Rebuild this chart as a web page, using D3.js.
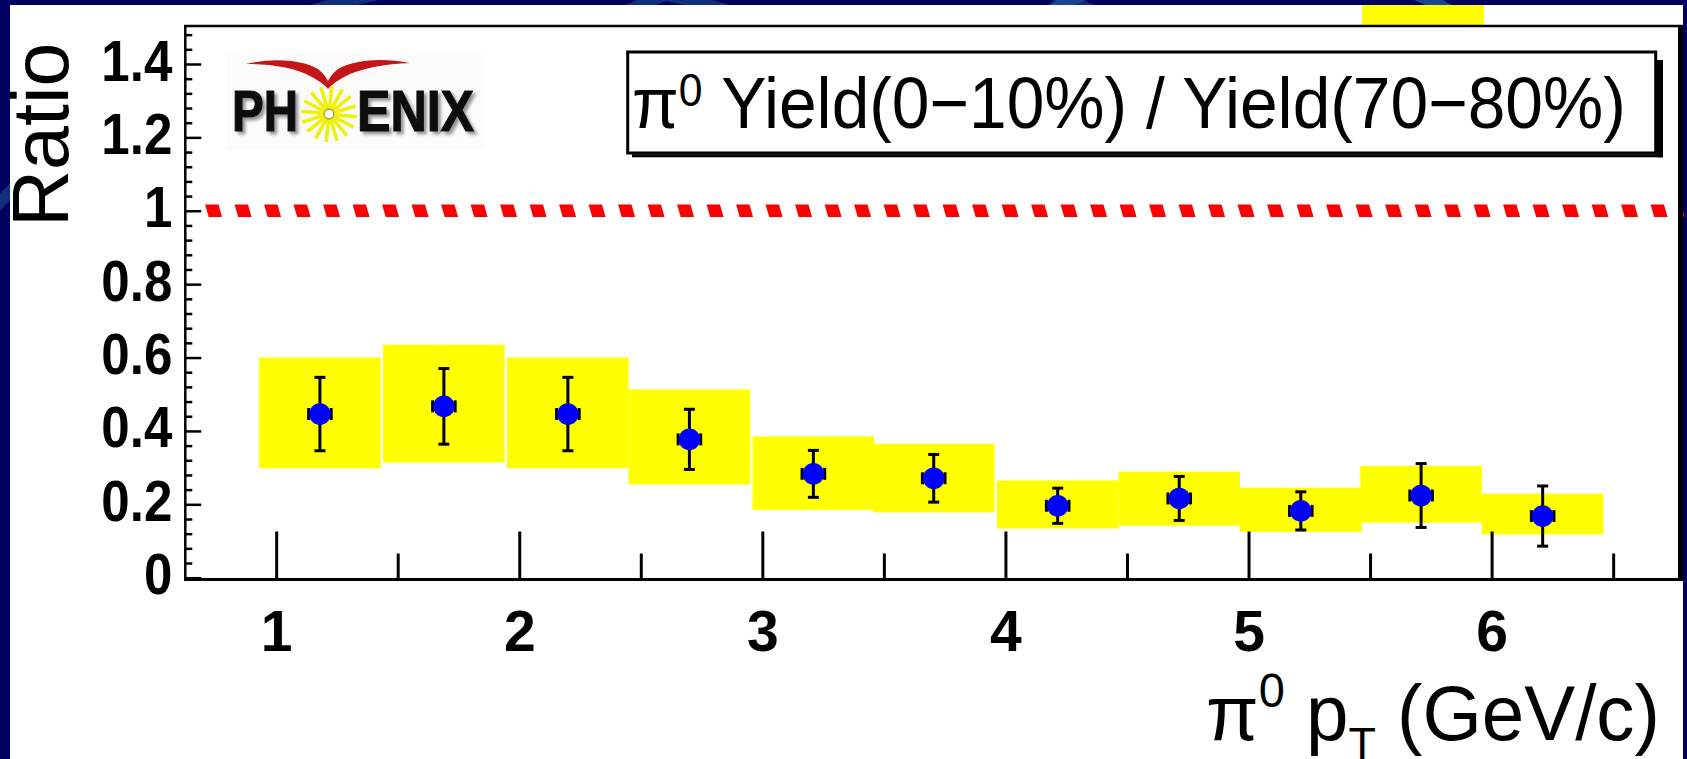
<!DOCTYPE html>
<html>
<head>
<meta charset="utf-8">
<title>pi0 yield ratio 0-10% / 70-80%</title>
<script src="https://cdn.jsdelivr.net/npm/d3@7"></script>
<style>
  html, body { margin: 0; padding: 0; background: #000060; overflow: hidden; }
  svg { display: block; }
</style>
</head>
<body>
<svg id="chart" width="1687" height="759"></svg>
<script>
// ---- data: central (0-10%) over peripheral (70-80%) pi0 yield ratio ----
const ptCenters   = [1.18, 1.69, 2.20, 2.70, 3.21, 3.705, 4.215, 4.715, 5.215, 5.71, 6.21];
const ratioValues = [0.446, 0.467, 0.446, 0.377, 0.283, 0.271, 0.196, 0.216, 0.182, 0.224, 0.168];
const statErrors  = [0.100, 0.103, 0.100, 0.082, 0.064, 0.065, 0.048, 0.060, 0.052, 0.087, 0.082];
const systLow     = [0.298, 0.314, 0.298, 0.254, 0.185, 0.178, 0.134, 0.142, 0.125, 0.150, 0.118];
const systHigh    = [0.600, 0.635, 0.600, 0.513, 0.385, 0.365, 0.265, 0.289, 0.245, 0.305, 0.229];
const systHalfWidth = 0.25;

const xMajorTicks = [1, 2, 3, 4, 5, 6];
const xMinorTicks = [1.5, 2.5, 3.5, 4.5, 5.5, 6.5];
const yMajorTicks = [0, 0.2, 0.4, 0.6, 0.8, 1, 1.2, 1.4];
const referenceLevel = 1;
const referenceStart = 0.715;

const titleText = "Yield(0\u221210%) / Yield(70\u221280%)";
const yTitle = "Ratio";

// ---- layout ----
const W = 1687, H = 759;
const frame = { left: 185.3, top: 26, right: 1680.5, bottom: 579.5 };
const FONT = "'Liberation Sans', Arial, Helvetica, sans-serif";

const x = d3.scaleLinear().domain([0.625, 6.775]).range([185, 1680]);
const y = d3.scaleLinear().domain([0, 1.5]).range([577.7, 27.3]);

const svg = d3.select("#chart");
const defs = svg.append("defs");
defs.append("filter").attr("id", "soft")
  .append("feGaussianBlur").attr("stdDeviation", 0.6);
const shadow = defs.append("filter").attr("id", "letterShadow")
  .attr("x", "-10%").attr("y", "-20%").attr("width", "130%").attr("height", "150%");
shadow.append("feGaussianBlur").attr("in", "SourceAlpha").attr("stdDeviation", 1.6).attr("result", "blur");
shadow.append("feOffset").attr("in", "blur").attr("dx", 2.5).attr("dy", 2.5).attr("result", "off");
shadow.append("feComponentTransfer").attr("in", "off").attr("result", "faded")
  .append("feFuncA").attr("type", "linear").attr("slope", 0.4);
const merge = shadow.append("feMerge");
merge.append("feMergeNode").attr("in", "faded");
merge.append("feMergeNode").attr("in", "SourceGraphic");

// squeeze a text element horizontally so it spans [left, right]
function fitWidth(sel, left, right) {
  const bb = sel.node().getBBox();
  const s = (right - left) / bb.width;
  sel.attr("transform", `translate(${left},0) scale(${s},1) translate(${-bb.x},0)`);
}

// ---- slide backdrop ----
svg.append("rect").attr("width", W).attr("height", H).attr("fill", "#000060");
const swirl = svg.append("g").attr("fill", "none").attr("stroke", "#112f7c").attr("stroke-width", 12);
swirl.append("circle").attr("cx", 860).attr("cy", 520).attr("r", 560);
swirl.append("circle").attr("cx", 520).attr("cy", 700).attr("r", 720);
swirl.append("circle").attr("cx", 1250).attr("cy", 380).attr("r", 420).attr("stroke", "#1a4592");
svg.append("rect").attr("x", 10).attr("y", 5).attr("width", 1673).attr("height", H - 5).attr("fill", "#ffffff");
svg.append("rect").attr("x", 1362).attr("y", 5).attr("width", 122).attr("height", 21).attr("fill", "#ffff00");

// ---- systematic uncertainty boxes ----
const points = ptCenters.map((c, i) => ({
  c, v: ratioValues[i], e: statErrors[i], lo: systLow[i], hi: systHigh[i]
}));
const plot = svg.append("g");
plot.selectAll("rect.syst").data(points).join("rect")
  .attr("class", "syst")
  .attr("x", d => x(d.c - systHalfWidth))
  .attr("width", d => x(d.c + systHalfWidth) - x(d.c - systHalfWidth))
  .attr("y", d => y(d.hi))
  .attr("height", d => y(d.lo) - y(d.hi))
  .attr("fill", "#ffff00");

// ---- reference line at ratio = 1 ----
const yRef = y(referenceLevel);
plot.append("line")
  .attr("x1", x(referenceStart)).attr("x2", 1683)
  .attr("y1", yRef).attr("y2", yRef)
  .attr("stroke", "#ff0000").attr("stroke-width", 12.5)
  .attr("stroke-dasharray", "13.4 16.1")
  .attr("transform", `translate(0,${yRef}) skewX(16) translate(0,${-yRef})`);

// ---- axes ----
const axisFont = g => g.attr("font-family", FONT).attr("font-weight", "bold").attr("fill", "#000");

const xAxisG = svg.append("g").attr("transform", `translate(0,${frame.bottom})`)
  .call(d3.axisBottom(x).tickValues(xMajorTicks).tickSizeInner(-48).tickSizeOuter(0)
    .tickFormat(d3.format("d")))
  .call(axisFont).attr("font-size", 57);
xAxisG.select(".domain").remove();
xAxisG.selectAll(".tick line").attr("stroke", "#000").attr("stroke-width", 3);
xAxisG.selectAll(".tick text").attr("y", 71.5).attr("dy", null).attr("fill", "#000");

const xMinorG = svg.append("g").attr("transform", `translate(0,${frame.bottom})`)
  .call(d3.axisBottom(x).tickValues(xMinorTicks).tickSizeInner(-26).tickSizeOuter(0).tickFormat(""));
xMinorG.select(".domain").remove();
xMinorG.selectAll(".tick line").attr("stroke", "#000").attr("stroke-width", 3);

const yAxisG = svg.append("g").attr("transform", `translate(${frame.left},0)`)
  .call(d3.axisLeft(y).tickValues(yMajorTicks).tickSizeInner(-16).tickSizeOuter(0)
    .tickFormat(d3.format("~g")))
  .call(axisFont).attr("font-size", 58);
yAxisG.select(".domain").remove();
yAxisG.selectAll(".tick line").attr("stroke", "#000").attr("stroke-width", 2.5);
yAxisG.selectAll(".tick text")
  .attr("x", -13).attr("y", 16).attr("dy", null).attr("fill", "#000")
  .attr("transform", "translate(-13,0) scale(0.88,1) translate(13,0)");

const yMinorValues = d3.range(0, 1.5, 0.04).filter(v => Math.abs(v * 5 - Math.round(v * 5)) > 1e-6);
const yMinorG = svg.append("g").attr("transform", `translate(${frame.left},0)`)
  .call(d3.axisLeft(y).tickValues(yMinorValues).tickSizeInner(-7).tickSizeOuter(0).tickFormat(""));
yMinorG.select(".domain").remove();
yMinorG.selectAll(".tick line").attr("stroke", "#000").attr("stroke-width", 2.5);

// ---- statistical error bars and markers ----
const bars = plot.append("g").attr("stroke", "#000").attr("stroke-width", 3);
bars.selectAll("line.stem").data(points).join("line")
  .attr("class", "stem")
  .attr("x1", d => x(d.c)).attr("x2", d => x(d.c))
  .attr("y1", d => y(d.v + d.e)).attr("y2", d => y(d.v - d.e));
bars.selectAll("line.capHi").data(points).join("line")
  .attr("class", "capHi")
  .attr("x1", d => x(d.c) - 5.5).attr("x2", d => x(d.c) + 5.5)
  .attr("y1", d => y(d.v + d.e)).attr("y2", d => y(d.v + d.e));
bars.selectAll("line.capLo").data(points).join("line")
  .attr("class", "capLo")
  .attr("x1", d => x(d.c) - 5.5).attr("x2", d => x(d.c) + 5.5)
  .attr("y1", d => y(d.v - d.e)).attr("y2", d => y(d.v - d.e));
bars.selectAll("line.sideL").data(points).join("line")
  .attr("class", "sideL")
  .attr("x1", d => x(d.c) - 11.3).attr("x2", d => x(d.c) - 11.3)
  .attr("y1", d => y(d.v) - 6).attr("y2", d => y(d.v) + 6);
bars.selectAll("line.sideR").data(points).join("line")
  .attr("class", "sideR")
  .attr("x1", d => x(d.c) + 11.3).attr("x2", d => x(d.c) + 11.3)
  .attr("y1", d => y(d.v) - 6).attr("y2", d => y(d.v) + 6);

plot.selectAll("circle.marker").data(points).join("circle")
  .attr("class", "marker")
  .attr("cx", d => x(d.c)).attr("cy", d => y(d.v))
  .attr("r", 10.8).attr("fill", "#0000ff");

// ---- frame ----
const fr = svg.append("g").attr("stroke", "#000").attr("fill", "none");
fr.append("line").attr("x1", frame.left).attr("x2", frame.left).attr("y1", frame.top - 1).attr("y2", frame.bottom + 1.5).attr("stroke-width", 2.5);
fr.append("line").attr("x1", frame.left - 1).attr("x2", frame.right + 2).attr("y1", frame.top).attr("y2", frame.top).attr("stroke-width", 2.5);
fr.append("line").attr("x1", frame.left - 1).attr("x2", frame.right + 2).attr("y1", frame.bottom).attr("y2", frame.bottom).attr("stroke-width", 3);
fr.append("line").attr("x1", frame.right).attr("x2", frame.right).attr("y1", frame.top - 1).attr("y2", frame.bottom + 1.5).attr("stroke-width", 5);

// ---- title box ----
const tb = svg.append("g");
tb.append("rect").attr("x", 632).attr("y", 154.3).attr("width", 1031).attr("height", 3).attr("fill", "#000");
tb.append("rect").attr("x", 1657).attr("y", 60).attr("width", 6).attr("height", 97.3).attr("fill", "#000");
tb.append("rect").attr("x", 627.7).attr("y", 52).attr("width", 1028).attr("height", 101)
  .attr("fill", "#fff").attr("stroke", "#000").attr("stroke-width", 3);
const tt = tb.append("text").attr("x", 632).attr("y", 128)
  .attr("font-family", FONT).attr("font-size", 73).attr("fill", "#000");
tt.append("tspan").text("\u03c0");
tt.append("tspan").attr("font-size", 46).attr("dy", -22).text("0");
tt.append("tspan").attr("dy", 22).text(" " + titleText);
fitWidth(tt, 632, 1626);

// ---- axis titles ----
svg.append("text")
  .attr("transform", "translate(68,227) rotate(-90)")
  .attr("font-family", FONT).attr("font-size", 79).attr("fill", "#000")
  .text(yTitle);

const xt = svg.append("text").attr("x", 1208).attr("y", 740)
  .attr("font-family", FONT).attr("font-size", 78).attr("fill", "#000");
xt.append("tspan").text("\u03c0");
xt.append("tspan").attr("font-size", 48).attr("dy", -33).text("0");
xt.append("tspan").attr("dy", 33).text(" p");
xt.append("tspan").attr("font-size", 46).attr("dy", 20).text("T");
xt.append("tspan").attr("dy", -20).text(" (GeV/c)");
fitWidth(xt, 1206, 1660);

// ---- experiment logo ----
const logo = svg.append("g").attr("filter", "url(#soft)");
logo.append("rect").attr("x", 226).attr("y", 54).attr("width", 258).attr("height", 96).attr("fill", "#fbfbfb");
logo.append("path")
  .attr("d", "M246,64 C272,58 300,59 318,69 C323,73 326,77 328,81 C330,77 333,73 338,69 C356,59 384,58 410,63 " +
             "C386,64 360,68 344,77 C337,81 331,85 328,89 C325,85 319,81 312,77 C296,68 272,64 246,64 Z")
  .attr("fill", "#c41414");
const sun = logo.append("g").attr("transform", "translate(329,114)");
sun.selectAll("line").data(d3.range(16)).join("line")
  .attr("x1", a => 6 * Math.cos(a * Math.PI / 8 + 0.1)).attr("y1", a => 6 * Math.sin(a * Math.PI / 8 + 0.1))
  .attr("x2", a => 28 * Math.cos(a * Math.PI / 8 + 0.1)).attr("y2", a => 28 * Math.sin(a * Math.PI / 8 + 0.1))
  .attr("stroke", "#f0f010").attr("stroke-width", 3.6);
sun.append("circle").attr("r", 5).attr("fill", "#fff").attr("stroke", "#b8b020").attr("stroke-width", 1.8);
const logoText = logo.append("g").attr("filter", "url(#letterShadow)")
  .attr("font-family", FONT).attr("font-weight", "bold").attr("font-size", 58).attr("fill", "#111")
  .attr("stroke", "#111").attr("stroke-width", 1.2);
logoText.append("text").attr("x", 232).attr("y", 131)
  .attr("textLength", 66).attr("lengthAdjust", "spacingAndGlyphs").text("PH");
logoText.append("text").attr("x", 357).attr("y", 131)
  .attr("textLength", 117).attr("lengthAdjust", "spacingAndGlyphs").text("ENIX");
</script>
</body>
</html>
